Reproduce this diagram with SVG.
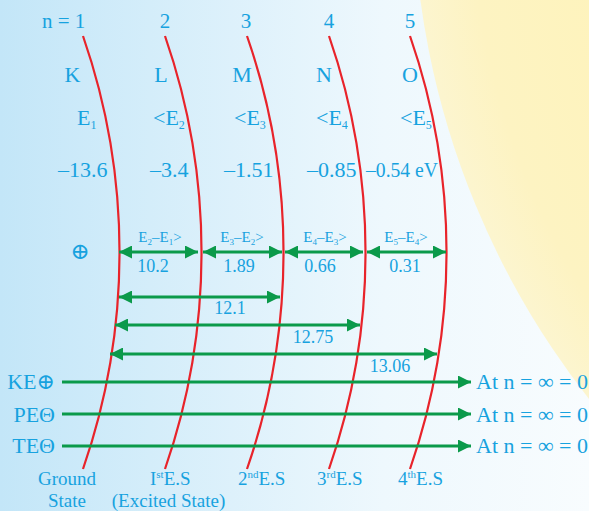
<svg xmlns="http://www.w3.org/2000/svg" width="589" height="511" viewBox="0 0 589 511">
  <defs>
    <linearGradient id="bg" x1="0" y1="0" x2="1" y2="0">
      <stop offset="0" stop-color="#c3e6f8"/>
      <stop offset="0.65" stop-color="#eef8fd"/>
      <stop offset="1" stop-color="#f8fcfe"/>
    </linearGradient>
    <radialGradient id="sun" gradientUnits="userSpaceOnUse" cx="1237" cy="-110" r="824">
      <stop offset="0.6" stop-color="#fff3b6"/>
      <stop offset="0.93" stop-color="#fdf3c2"/>
      <stop offset="1" stop-color="#fcf5cf"/>
    </radialGradient>
    <marker id="ah" markerUnits="userSpaceOnUse" markerWidth="14" markerHeight="13" refX="13" refY="6.5" orient="auto-start-reverse">
      <path d="M0,0 L13,6.5 L0,13 z" fill="#0b9a4a"/>
    </marker>
    <path id="orbit" d="M83,36 A660,660 0 0 1 83,469"/>
  </defs>
  <style>
    text { font-family: "Liberation Serif", "DejaVu Serif", serif; fill: #17a2df; }
    .big { font-size: 22px; }
    .top { font-size: 21px; }
    .mid { font-size: 18px; }
    .sm { font-size: 15px; }
    .lab { font-size: 19px; }
    .orb { fill: none; stroke: #e8232a; stroke-width: 2.2; }
    .arr { stroke: #0b9a4a; stroke-width: 3; fill: none; }
  </style>

  <rect x="0" y="0" width="589" height="511" fill="url(#bg)"/>
  <circle cx="1237" cy="-110" r="824" fill="url(#sun)"/>

  <g id="shell-1">
    <use href="#orbit" class="orb"/>
    <text class="top" x="42" y="28">n = 1</text>
    <text class="big" x="72.5" y="82" text-anchor="middle">K</text>
    <text class="big" x="77" y="125">E<tspan font-size="12" dy="4">1</tspan></text>
    <text class="big" x="58" y="177">–13.6</text>
    <text class="lab" x="67" y="485" text-anchor="middle">Ground</text>
    <text class="lab" x="67" y="507" text-anchor="middle">State</text>
  </g>
  <g id="shell-2">
    <use href="#orbit" class="orb" transform="translate(82,0)"/>
    <text class="top" x="165" y="28" text-anchor="middle">2</text>
    <text class="big" x="161" y="82" text-anchor="middle">L</text>
    <text class="big" x="153" y="125">&lt;E<tspan font-size="12" dy="4">2</tspan></text>
    <text class="big" x="150" y="177">–3.4</text>
    <text class="lab" x="150" y="485">I<tspan font-size="11" dy="-7">st</tspan><tspan dy="7">E.S</tspan></text>
    <text class="lab" x="168.5" y="507" text-anchor="middle">(Excited State)</text>
  </g>
  <g id="shell-3">
    <use href="#orbit" class="orb" transform="translate(164,0)"/>
    <text class="top" x="246" y="28" text-anchor="middle">3</text>
    <text class="big" x="242" y="82" text-anchor="middle">M</text>
    <text class="big" x="234" y="125">&lt;E<tspan font-size="12" dy="4">3</tspan></text>
    <text class="big" x="224" y="177">–1.51</text>
    <text class="lab" x="238" y="485">2<tspan font-size="11" dy="-7">nd</tspan><tspan dy="7">E.S</tspan></text>
  </g>
  <g id="shell-4">
    <use href="#orbit" class="orb" transform="translate(246,0)"/>
    <text class="top" x="329" y="28" text-anchor="middle">4</text>
    <text class="big" x="324" y="82" text-anchor="middle">N</text>
    <text class="big" x="316" y="125">&lt;E<tspan font-size="12" dy="4">4</tspan></text>
    <text class="big" x="307" y="177">–0.85</text>
    <text class="lab" x="317" y="485">3<tspan font-size="11" dy="-7">rd</tspan><tspan dy="7">E.S</tspan></text>
  </g>
  <g id="shell-5">
    <use href="#orbit" class="orb" transform="translate(327,0)"/>
    <text class="top" x="410" y="28" text-anchor="middle">5</text>
    <text class="big" x="410" y="82" text-anchor="middle">O</text>
    <text class="big" x="400" y="125">&lt;E<tspan font-size="12" dy="4">5</tspan></text>
    <text class="big" x="366" y="177" textLength="72" lengthAdjust="spacingAndGlyphs">–0.54 eV</text>
    <text class="lab" x="398" y="485">4<tspan font-size="11" dy="-7">th</tspan><tspan dy="7">E.S</tspan></text>
  </g>

  <g id="energy-labels">
    <text x="80" y="259" font-size="23" text-anchor="middle">⊕</text>
    <text class="sm" x="160" y="242" text-anchor="middle">E<tspan font-size="9" dy="3">2</tspan><tspan dy="-3">–E</tspan><tspan font-size="9" dy="3">1</tspan><tspan dy="-3">&gt;</tspan></text>
    <text class="sm" x="242" y="242" text-anchor="middle">E<tspan font-size="9" dy="3">3</tspan><tspan dy="-3">–E</tspan><tspan font-size="9" dy="3">2</tspan><tspan dy="-3">&gt;</tspan></text>
    <text class="sm" x="325" y="242" text-anchor="middle">E<tspan font-size="9" dy="3">4</tspan><tspan dy="-3">–E</tspan><tspan font-size="9" dy="3">3</tspan><tspan dy="-3">&gt;</tspan></text>
    <text class="sm" x="406" y="242" text-anchor="middle">E<tspan font-size="9" dy="3">5</tspan><tspan dy="-3">–E</tspan><tspan font-size="9" dy="3">4</tspan><tspan dy="-3">&gt;</tspan></text>
    <text class="mid" x="153" y="272" text-anchor="middle">10.2</text>
    <text class="mid" x="239" y="272" text-anchor="middle">1.89</text>
    <text class="mid" x="320" y="272" text-anchor="middle">0.66</text>
    <text class="mid" x="405" y="272" text-anchor="middle">0.31</text>
    <text class="mid" x="230" y="314" text-anchor="middle">12.1</text>
    <text class="mid" x="313" y="343" text-anchor="middle">12.75</text>
    <text class="mid" x="390" y="372" text-anchor="middle">13.06</text>
  </g>

  <g id="energy-rows">
    <text class="big" x="55" y="389" text-anchor="end">KE⊕</text>
    <text class="big" x="55" y="422" text-anchor="end">PEΘ</text>
    <text class="big" x="55" y="453" text-anchor="end">TEΘ</text>
    <text class="big" x="476" y="389">At n = ∞ = 0</text>
    <text class="big" x="476" y="422">At n = ∞ = 0</text>
    <text class="big" x="476" y="453">At n = ∞ = 0</text>
  </g>

  <g id="connectors">
    <line class="arr" x1="119" y1="252" x2="198" y2="252" marker-start="url(#ah)" marker-end="url(#ah)"/>
    <line class="arr" x1="203" y1="252" x2="282" y2="252" marker-start="url(#ah)" marker-end="url(#ah)"/>
    <line class="arr" x1="285" y1="252" x2="363" y2="252" marker-start="url(#ah)" marker-end="url(#ah)"/>
    <line class="arr" x1="367" y1="252" x2="446" y2="252" marker-start="url(#ah)" marker-end="url(#ah)"/>
    <line class="arr" x1="119" y1="297" x2="280" y2="297" marker-start="url(#ah)" marker-end="url(#ah)"/>
    <line class="arr" x1="115" y1="325" x2="360" y2="325" marker-start="url(#ah)" marker-end="url(#ah)"/>
    <line class="arr" x1="110" y1="354" x2="437" y2="354" marker-start="url(#ah)" marker-end="url(#ah)"/>
    <line class="arr" x1="62" y1="382" x2="471" y2="382" marker-end="url(#ah)"/>
    <line class="arr" x1="62" y1="414" x2="471" y2="414" marker-end="url(#ah)"/>
    <line class="arr" x1="62" y1="446" x2="471" y2="446" marker-end="url(#ah)"/>
  </g>
</svg>
